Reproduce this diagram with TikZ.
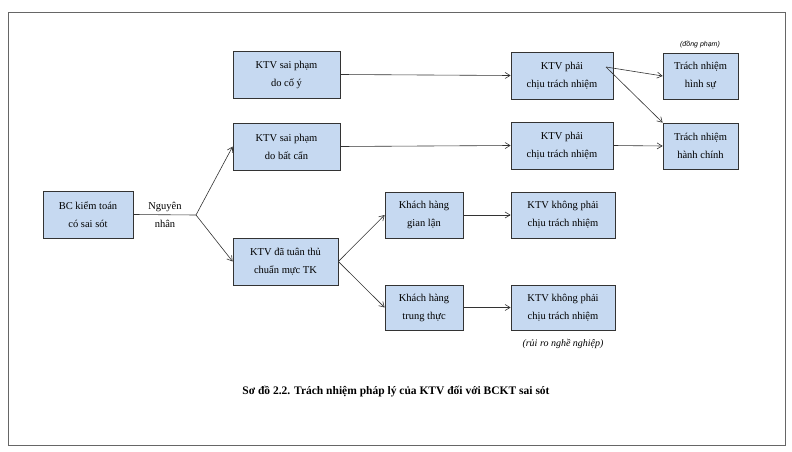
\documentclass[tikz,border=0pt]{standalone}
\usepackage{fontspec}
\setmainfont{Liberation Serif}
\newfontfamily\sansf{Liberation Sans}
\usetikzlibrary{arrows.meta}
\definecolor{boxfill}{RGB}{198,217,241}
\begin{document}
\begin{tikzpicture}[x=1pt,y=-1pt,
  bx/.style={draw=black!80,fill=boxfill,line width=0.7pt,align=center,font=\fontsize{10.5}{18}\selectfont,inner sep=0pt},
  ar/.style={-{Straight Barb[length=5pt,width=6pt]},line width=0.6pt,black!80}]
\useasboundingbox (0,0) rectangle (792,452);
\draw[black!60,line width=0.6pt] (8,12) rectangle (785,445);
\newcommand\mybox[5]{\node[bx,minimum width=#3-#1,minimum height=#4-#2] (#5) at ({(#1+#3)/2},{(#2+#4)/2})}
\mybox{43}{191}{133}{238}{bc} {BC kiểm toán\\có sai sót};
\mybox{233}{51}{340}{98}{coy} {KTV sai phạm\\do cố ý};
\mybox{233}{123}{340}{170}{batcan} {KTV sai phạm\\do bất cẩn};
\mybox{233}{238}{338}{285}{tuanthu} {KTV đã tuân thủ\\chuẩn mực TK};
\mybox{385}{192}{463}{238}{gianlan} {Khách hàng\\gian lận};
\mybox{385}{285}{463}{330}{trungthuc} {Khách hàng\\trung thực};
\mybox{511}{52}{613}{99}{phai1} {KTV phải\\chịu trách nhiệm};
\mybox{511}{122}{613}{169}{phai2} {KTV phải\\chịu trách nhiệm};
\mybox{511}{192}{615}{238}{khong1} {KTV không phải\\chịu trách nhiệm};
\mybox{511}{285}{615}{330}{khong2} {KTV không phải\\chịu trách nhiệm};
\mybox{663}{53}{738}{99}{hinhsu} {Trách nhiệm\\hình sự};
\mybox{663}{123}{738}{169}{hanhchinh} {Trách nhiệm\\hành chính};
\coordinate (j) at (196,215);
\node[font=\fontsize{10.5}{18}\selectfont,align=center] (ng) at (165,215) {Nguyên\\nhân};
\draw[line width=0.6pt,black!80] (bc.east) -- (j);
\draw[ar] (j) -- (batcan.west);
\draw[ar] (j) -- (tuanthu.west);
\draw[ar] (coy.east) -- (phai1.west);
\draw[ar] (batcan.east) -- (phai2.west);
\draw[ar] (tuanthu.east) -- (gianlan.west);
\draw[ar] (tuanthu.east) -- (trungthuc.west);
\draw[ar] (gianlan.east) -- (khong1.west);
\draw[ar] (trungthuc.east) -- (khong2.west);
\coordinate (p1) at (606,67);
\draw[ar] (p1) -- (hinhsu.west);
\draw[ar] (p1) -- (hanhchinh.north west);
\draw[ar] (phai2.east) -- (hanhchinh.west);
\node[font=\sansf\itshape\fontsize{7}{8}\selectfont] (dp) at (700,45) {(đồng phạm)};
\node[font=\itshape\fontsize{10}{11}\selectfont] (rr) at (563,344) {(rủi ro nghề nghiệp)};
\node[font=\bfseries\fontsize{11.5}{13}\selectfont] (cap) at (396,392) {Sơ đồ 2.2. Trách nhiệm pháp lý của KTV đối với BCKT sai sót};
\end{tikzpicture}
\end{document}
